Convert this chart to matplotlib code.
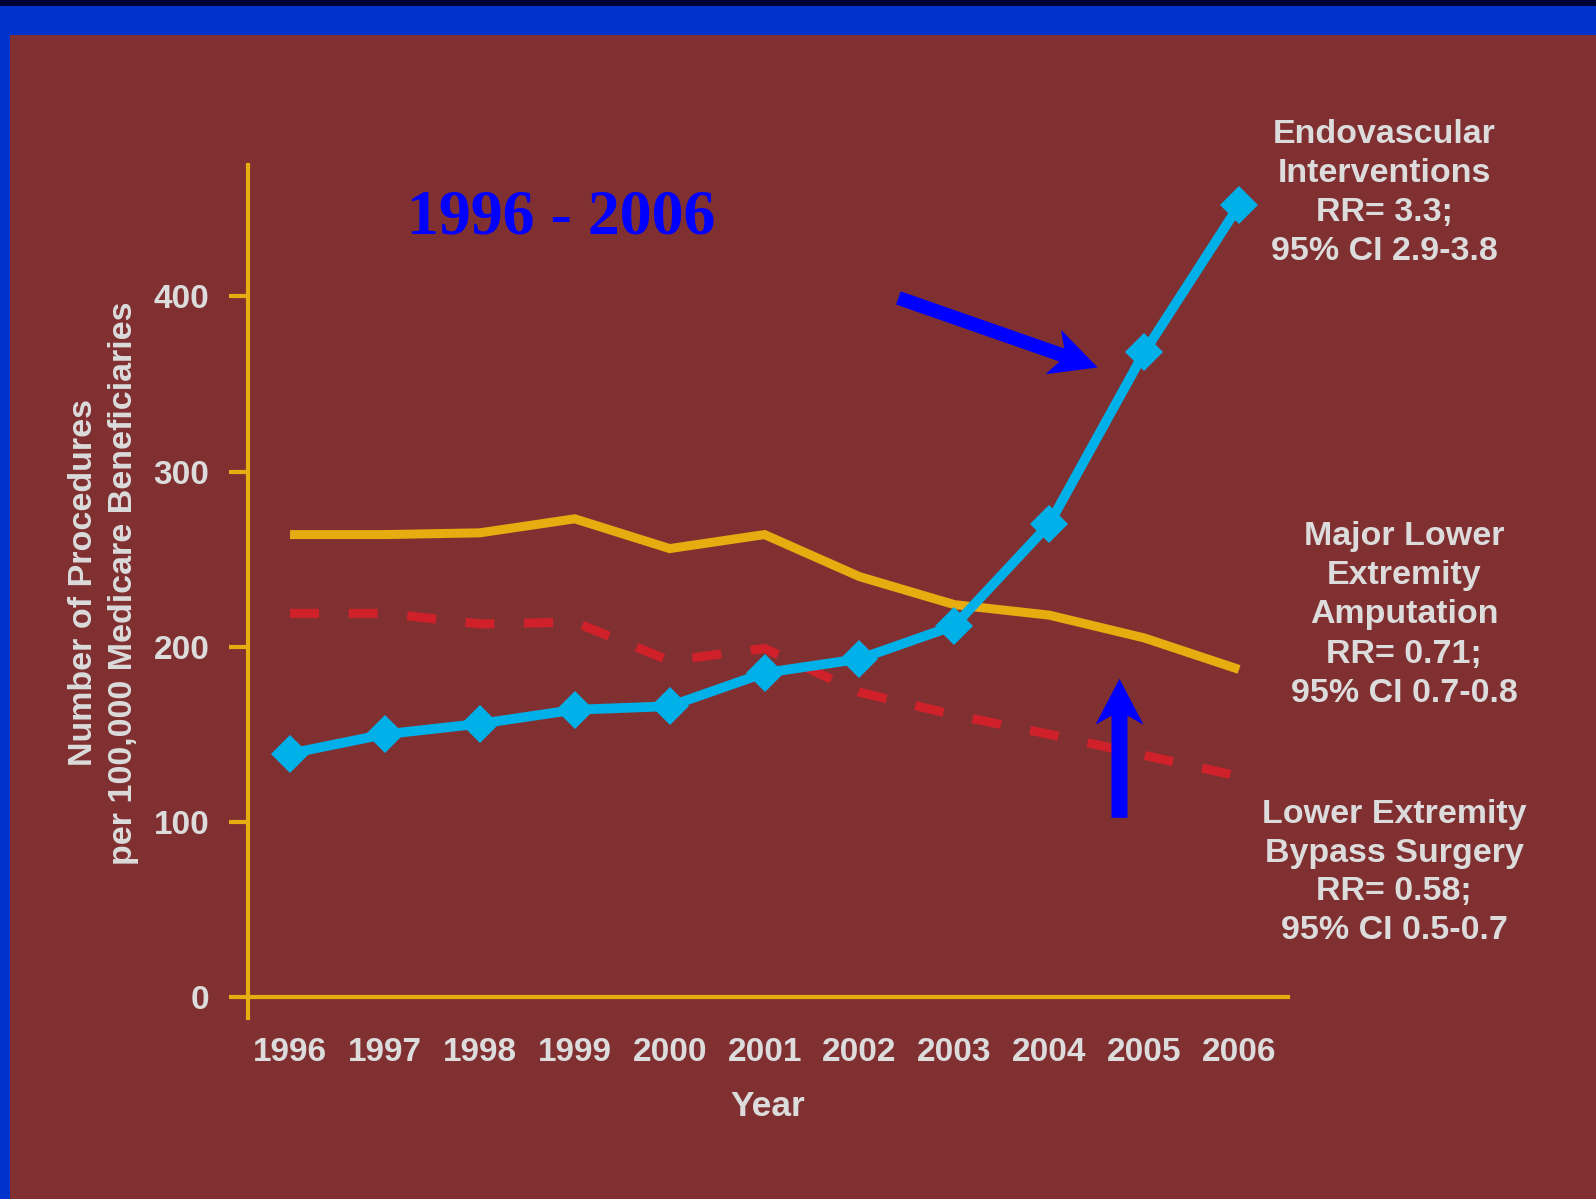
import matplotlib
matplotlib.use("Agg")
import matplotlib.pyplot as plt
import numpy as np
from matplotlib.patches import Rectangle, Polygon
from matplotlib.transforms import IdentityTransform

# ---- data -------------------------------------------------------------
years = [1996, 1997, 1998, 1999, 2000, 2001, 2002, 2003, 2004, 2005, 2006]
endovascular = [139, 150, 156, 164, 166, 185, 193, 212, 270, 368, 452]
amputation = [264, 264, 265, 273, 256, 264, 240, 224, 218, 205, 187]
bypass = [219, 219, 213, 214, 192, 199, 174, 161, 150, 138, 126]
y_ticks = [0, 100, 200, 300, 400]

endo_label = ["Endovascular", "Interventions", "RR= 3.3;", "95% CI 2.9-3.8"]
amp_label = ["Major Lower", "Extremity", "Amputation", "RR= 0.71;", "95% CI 0.7-0.8"]
bypass_label = ["Lower Extremity", "Bypass Surgery", "RR= 0.58;", "95% CI 0.5-0.7"]

# ---- style ------------------------------------------------------------
W, H, DPI = 1596, 1199, 100
BG = "#813031"
FRAME = "#0033CC"
NAVY = "#000033"
GOLD = "#E6AC10"
CYAN = "#00B0E8"
RED = "#D0212A"
TEXT = "#DCDCDC"
ARROW = "#0000FF"
SANS = "Liberation Sans"
SERIF = "Liberation Serif"
LABEL_SIZE = 24.5
TICK_SIZE = 24

fig = plt.figure(figsize=(W / DPI, H / DPI), dpi=DPI, facecolor=BG)


def fx(px):
    return px / W


def fy(py):
    return 1 - py / H


# slide frame: dark strip, blue band on top and blue edge on the left
fig.patches.append(Rectangle((0, fy(35)), 1, 35 / H, transform=fig.transFigure,
                             facecolor=FRAME, edgecolor="none", zorder=0))
fig.patches.append(Rectangle((0, fy(6)), 1, 6 / H, transform=fig.transFigure,
                             facecolor=NAVY, edgecolor="none", zorder=0))
fig.patches.append(Rectangle((0, 0), 10 / W, fy(35), transform=fig.transFigure,
                             facecolor=FRAME, edgecolor="none", zorder=0))

# ---- axes -------------------------------------------------------------
x_left, x_right = 1995.557, 2006.51
y_bottom, y_top = -12, 475
ax = fig.add_axes([fx(248), fy(1018), fx(1287.5) - fx(248), (1018 - 165) / H])
ax.set_facecolor("none")
ax.set_xlim(x_left, x_right)
ax.set_ylim(y_bottom, y_top)

for side in ("top", "right"):
    ax.spines[side].set_visible(False)
ax.spines["left"].set_color(GOLD)
ax.spines["left"].set_linewidth(3)
ax.spines["bottom"].set_color(GOLD)
ax.spines["bottom"].set_linewidth(3)
ax.spines["bottom"].set_position(("data", 0))

ax.set_yticks(y_ticks)
ax.set_yticklabels([str(v) for v in y_ticks])
ax.set_xticks(years)
ax.set_xticklabels([str(y) for y in years])
ax.tick_params(axis="y", length=13.7, width=3, color=GOLD, pad=14,
               labelsize=TICK_SIZE, labelcolor=TEXT)
ax.tick_params(axis="x", length=0, pad=29, labelsize=TICK_SIZE, labelcolor=TEXT)
for lab in ax.get_xticklabels() + ax.get_yticklabels():
    lab.set_fontfamily(SANS)
    lab.set_fontweight("bold")

# ---- series -----------------------------------------------------------
ax.plot(years, amputation, color=GOLD, lw=6.5, solid_joinstyle="miter",
        solid_capstyle="butt", zorder=3)
ax.plot(years, bypass, color=RED, lw=6.5, dashes=(3.2, 3.3),
        dash_capstyle="butt", zorder=3)
ax.plot(years, endovascular, color=CYAN, lw=7, marker="D", ms=19.5,
        mew=0, mfc=CYAN, zorder=4)

# ---- text -------------------------------------------------------------
fig.text(fx(561), fy(233), "1996 - 2006", color=ARROW, fontsize=46,
         fontfamily=SERIF, fontweight="bold", ha="center", va="baseline")

fig.text(fx(768), fy(1107), "Year", color=TEXT, fontsize=25.5,
         fontfamily=SANS, fontweight="bold", ha="center", va="center")

fig.text(fx(84), fy(583), "Number of Procedures", color=TEXT,
         fontsize=LABEL_SIZE, fontfamily=SANS, fontweight="bold",
         rotation=90, ha="center", va="center")
fig.text(fx(124), fy(583), "per 100,000 Medicare Beneficiaries", color=TEXT,
         fontsize=LABEL_SIZE, fontfamily=SANS, fontweight="bold",
         rotation=90, ha="center", va="center")


def text_block(lines, cx, first_base, step):
    for i, line in enumerate(lines):
        fig.text(fx(cx), fy(first_base + i * step), line, color=TEXT,
                 fontsize=LABEL_SIZE, fontfamily=SANS, fontweight="bold",
                 ha="center", va="baseline")


text_block(endo_label, 1384, 143, 39)
text_block(amp_label, 1404, 545, 39.25)
text_block(bypass_label, 1394, 823, 38.7)


# ---- callout arrows ---------------------------------------------------
def stealth_arrow(tail, tip, shaft_w, head_len, head_w, notch):
    """Filled arrow with swept-back barbs, drawn in pixel space."""
    p0 = np.array(ax.transData.transform(tail))
    p1 = np.array(ax.transData.transform(tip))
    u = (p1 - p0) / np.linalg.norm(p1 - p0)
    v = np.array([-u[1], u[0]])
    pts = [
        p0 + v * shaft_w / 2,
        p1 - u * (head_len - notch) + v * shaft_w / 2,
        p1 - u * head_len + v * head_w / 2,
        p1,
        p1 - u * head_len - v * head_w / 2,
        p1 - u * (head_len - notch) - v * shaft_w / 2,
        p0 - v * shaft_w / 2,
    ]
    fig.patches.append(Polygon(pts, closed=True, transform=IdentityTransform(),
                               facecolor=ARROW, edgecolor="none", zorder=5))


# pixel rows 298 -> 368 and 818 -> 679 expressed in data units
stealth_arrow((2002.41, 399.1), (2004.51, 359.4), 14, 47, 47, 9)
stealth_arrow((2004.74, 102.3), (2004.74, 181.7), 16, 46, 48, 9)

fig.savefig("out.png", dpi=DPI, facecolor=BG)
